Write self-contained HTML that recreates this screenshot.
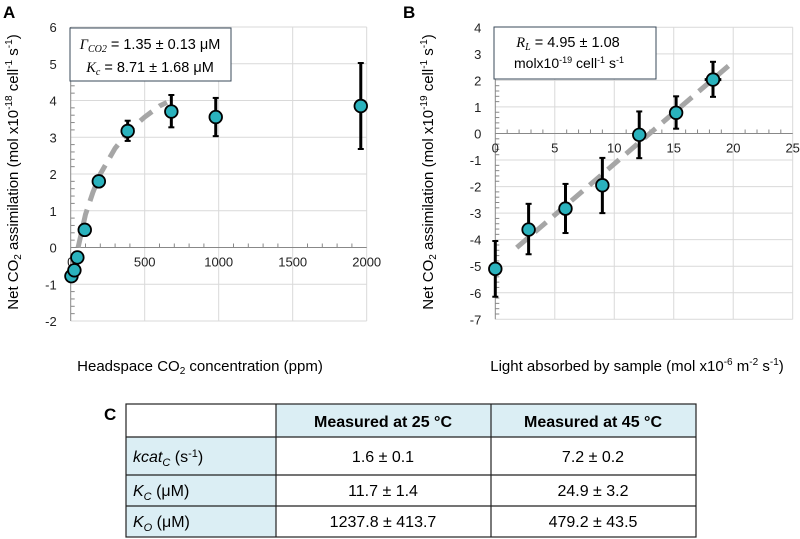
<!DOCTYPE html>
<html><head><meta charset="utf-8"><style>
body{margin:0;background:#fff;width:800px;height:539px;overflow:hidden;font-family:"Liberation Sans",sans-serif}
svg{position:absolute;left:0;top:0}
text{font-family:"Liberation Sans",sans-serif}
</style></head><body>
<svg id="s" width="800" height="539">
<g id="gA"></g>
<g id="gB"></g>
</svg>
<script>
// Panel A data
const aX=[5,25,45,95,190,385,680,980,1960];
const aY=[-0.78,-0.62,-0.27,0.48,1.8,3.17,3.7,3.55,3.85];
const aLo=[null,null,null,null,null,2.9,3.27,3.03,2.68];
const aHi=[null,null,null,null,null,3.45,4.15,4.07,5.02];
const aFitX=[50,100,150,200,300,400,500,600,650];
const aFitY=[0,0.9,1.5,2.0,2.7,3.2,3.55,3.85,3.95];
const aXTicks=[0,500,1000,1500,2000];
const aYTicks=[-2,-1,0,1,2,3,4,5,6];
// Panel B data
const bX=[0,2.8,5.9,9,12.1,15.2,18.3];
const bY=[-5.1,-3.62,-2.83,-1.95,-0.05,0.78,2.03];
const bLo=[-6.15,-4.55,-3.75,-3.0,-0.93,0.18,1.38];
const bHi=[-4.05,-2.65,-1.9,-0.92,0.83,1.4,2.7];
const bXLo=[null,null,null,null,null,14.7,17.6];
const bXHi=[null,null,null,null,null,15.7,19.0];
const bFitX=[1.8,20];
const bFitY=[-4.3,2.7];
const bXTicks=[0,5,10,15,20,25];
const bYTicks=[-7,-6,-5,-4,-3,-2,-1,0,1,2,3,4];

const NS="http://www.w3.org/2000/svg";
function mk(p,t,a,txt){const e=document.createElementNS(NS,t);for(const k in a)e.setAttribute(k,a[k]);if(txt!==undefined)e.textContent=txt;p.appendChild(e);return e;}

function panel(g,o){
  const sx=v=>o.x0+(v-o.xmin)/(o.xmax-o.xmin)*(o.x1-o.x0);
  const sy=v=>o.y0+(v-o.ymin)/(o.ymax-o.ymin)*(o.y1-o.y0);
  o.xt.forEach(t=>{if(t!==o.xmin){const l=mk(g,'line',{x1:sx(t),x2:sx(t),y1:sy(o.ymax),y2:sy(o.ymin),stroke:'#d9d9d9','stroke-width':1});
  
  }});
  o.yt.forEach(t=>{const l=mk(g,'line',{x1:sx(o.xmin),x2:sx(o.xmax),y1:sy(t),y2:sy(t),stroke:'#d9d9d9','stroke-width':1});
  
  });
  const ya=mk(g,'line',{x1:sx(0),x2:sx(0),y1:sy(o.ymax),y2:sy(o.ymin),stroke:'#888','stroke-width':1});
  
  
  const xa=mk(g,'line',{x1:sx(o.xmin),x2:sx(o.xmax),y1:sy(0),y2:sy(0),stroke:'#888','stroke-width':1});
  
  
  for(let i=0;i<o.xt.length-1;i++){for(let k=1;k<5;k++){const v=o.xt[i]+(o.xt[i+1]-o.xt[i])*k/5;mk(g,'line',{x1:sx(v),x2:sx(v),y1:sy(0),y2:sy(0)-4,stroke:'#888'});}}
  for(let i=0;i<o.yt.length-1;i++){for(let k=1;k<5;k++){const v=o.yt[i]+(o.yt[i+1]-o.yt[i])*k/5;mk(g,'line',{x1:sx(0),x2:sx(0)+4,y1:sy(v),y2:sy(v),stroke:'#888'});}}
  o.xt.forEach(t=>{const e=mk(g,'text',{x:sx(t),y:sy(0)+19,'text-anchor':'middle','font-size':13,fill:'#222'},String(t));
  
  });
  o.yt.forEach(t=>{const e=mk(g,'text',{x:sx(0)-14,y:sy(t)+5,'text-anchor':'end','font-size':13,fill:'#222'},String(t));
  
  });
  const fl=mk(g,'polyline',{points:o.fx.map((v,i)=>sx(v)+','+sy(o.fy[i])).join(' '),fill:'none',stroke:'#a6a6a6','stroke-width':5,'stroke-dasharray':'15,9'});
  
  
  o.X.forEach((v,i)=>{
    if(o.lo[i]!==null){const e=mk(g,'line',{x1:sx(v),x2:sx(v),y1:sy(o.lo[i]),y2:sy(o.hi[i]),stroke:'#000','stroke-width':3});
    
    
    [o.lo[i],o.hi[i]].forEach(c=>mk(g,'line',{x1:sx(v)-3,x2:sx(v)+3,y1:sy(c),y2:sy(c),stroke:'#000','stroke-width':2}));}
    if(o.xlo&&o.xlo[i]!==null){const e=mk(g,'line',{x1:sx(o.xlo[i]),x2:sx(o.xhi[i]),y1:sy(o.Y[i]),y2:sy(o.Y[i]),stroke:'#000','stroke-width':3});
    
    }
  });
  o.X.forEach((v,i)=>{const c=mk(g,'circle',{cx:sx(v),cy:sy(o.Y[i]),r:6.3,fill:'#2ab2bd',stroke:'#000','stroke-width':1.8});
  
  });
}
const gA=document.getElementById('gA'),gB=document.getElementById('gB');
panel(gA,{x0:70.7,x1:366.7,xmin:0,xmax:2000,y0:321,y1:27,ymin:-2,ymax:6,xt:aXTicks,yt:aYTicks,X:aX,Y:aY,lo:aLo,hi:aHi,fx:aFitX,fy:aFitY});
panel(gB,{x0:495.3,x1:792.7,xmin:0,xmax:25,y0:319.3,y1:27.3,ymin:-7,ymax:4,xt:bXTicks,yt:bYTicks,X:bX,Y:bY,lo:bLo,hi:bHi,xlo:bXLo,xhi:bXHi,fx:bFitX,fy:bFitY});
</script>
<svg width="800" height="539">
<text x="3" y="18" font-size="17" font-weight="bold">A</text>
<text x="403" y="18" font-size="17" font-weight="bold">B</text>
<rect x="70" y="28" width="161" height="53" fill="#fff" stroke="#3a4a5a" stroke-width="1"/>
<text x="150" y="49" font-size="14.5" text-anchor="middle"><tspan font-family="Liberation Serif" font-style="italic">Γ<tspan font-size="10" dy="3">CO2</tspan></tspan><tspan dy="-3"> = 1.35 ± 0.13 μM</tspan></text>
<text x="150" y="72" font-size="14.5" text-anchor="middle"><tspan font-family="Liberation Serif" font-style="italic">K<tspan font-size="10" dy="3">c</tspan></tspan><tspan dy="-3"> = 8.71 ± 1.68 μM</tspan></text>
<rect x="494" y="27" width="162" height="52" fill="#fff" stroke="#3a4a5a" stroke-width="1"/>
<text x="568" y="47" font-size="14.5" text-anchor="middle"><tspan font-family="Liberation Serif" font-style="italic">R<tspan font-size="10" dy="3">L</tspan></tspan><tspan dy="-3"> = 4.95 ± 1.08</tspan></text>
<text x="569" y="68" font-size="14" text-anchor="middle">molx10<tspan font-size="9" dy="-5">-19</tspan><tspan dy="5"> cell</tspan><tspan font-size="9" dy="-5">-1</tspan><tspan dy="5"> s</tspan><tspan font-size="9" dy="-5">-1</tspan></text>
<text transform="translate(18,172) rotate(-90)" font-size="15" text-anchor="middle">Net CO<tspan font-size="10" dy="3">2</tspan><tspan dy="-3"> assimilation (mol x10</tspan><tspan font-size="10" dy="-6">-18</tspan><tspan dy="6"> cell</tspan><tspan font-size="10" dy="-6">-1</tspan><tspan dy="6"> s</tspan><tspan font-size="10" dy="-6">-1</tspan><tspan dy="6">)</tspan></text>
<text transform="translate(433,172) rotate(-90)" font-size="15" text-anchor="middle">Net CO<tspan font-size="10" dy="3">2</tspan><tspan dy="-3"> assimilation (mol x10</tspan><tspan font-size="10" dy="-6">-19</tspan><tspan dy="6"> cell</tspan><tspan font-size="10" dy="-6">-1</tspan><tspan dy="6"> s</tspan><tspan font-size="10" dy="-6">-1</tspan><tspan dy="6">)</tspan></text>
<text x="200" y="371" font-size="15" text-anchor="middle">Headspace CO<tspan font-size="10" dy="3">2</tspan><tspan dy="-3"> concentration (ppm)</tspan></text>
<text x="637" y="371" font-size="15" text-anchor="middle">Light absorbed by sample (mol x10<tspan font-size="10" dy="-6">-6</tspan><tspan dy="6"> m</tspan><tspan font-size="10" dy="-6">-2</tspan><tspan dy="6"> s</tspan><tspan font-size="10" dy="-6">-1</tspan><tspan dy="6">)</tspan></text>
<text x="104" y="420" font-size="17" font-weight="bold">C</text>
<g>
<rect x="276" y="404" width="420" height="33" fill="#dbeef4"/>
<rect x="126" y="437" width="150" height="100" fill="#dbeef4"/>
<g stroke="#222" stroke-width="1.2" fill="none">
<rect x="126" y="404" width="570" height="133"/>
<line x1="126" x2="696" y1="437" y2="437"/><line x1="126" x2="696" y1="475" y2="475"/><line x1="126" x2="696" y1="506" y2="506"/>
<line x1="276" x2="276" y1="404" y2="537"/><line x1="491" x2="491" y1="404" y2="537"/>
</g>
<text x="383" y="427" font-size="16" font-weight="bold" text-anchor="middle">Measured at 25 °C</text>
<text x="593" y="427" font-size="16" font-weight="bold" text-anchor="middle">Measured at 45 °C</text>
<text x="133" y="462" font-size="16"><tspan font-style="italic">kcat<tspan font-size="11" dy="4">C</tspan></tspan><tspan dy="-4"> (s</tspan><tspan font-size="11" dy="-5">-1</tspan><tspan dy="5">)</tspan></text>
<text x="133" y="496" font-size="16"><tspan font-style="italic">K<tspan font-size="11" dy="4">C</tspan></tspan><tspan dy="-4"> (μM)</tspan></text>
<text x="133" y="527" font-size="16"><tspan font-style="italic">K<tspan font-size="11" dy="4">O</tspan></tspan><tspan dy="-4"> (μM)</tspan></text>
<g font-size="16" text-anchor="middle">
<text x="383" y="462">1.6 ± 0.1</text>
<text x="593" y="462">7.2 ± 0.2</text>
<text x="383" y="496">11.7 ± 1.4</text>
<text x="593" y="496">24.9 ± 3.2</text>
<text x="383" y="527">1237.8 ± 413.7</text>
<text x="593" y="527">479.2 ± 43.5</text>
</g>
</g>
</svg>
</body></html>
